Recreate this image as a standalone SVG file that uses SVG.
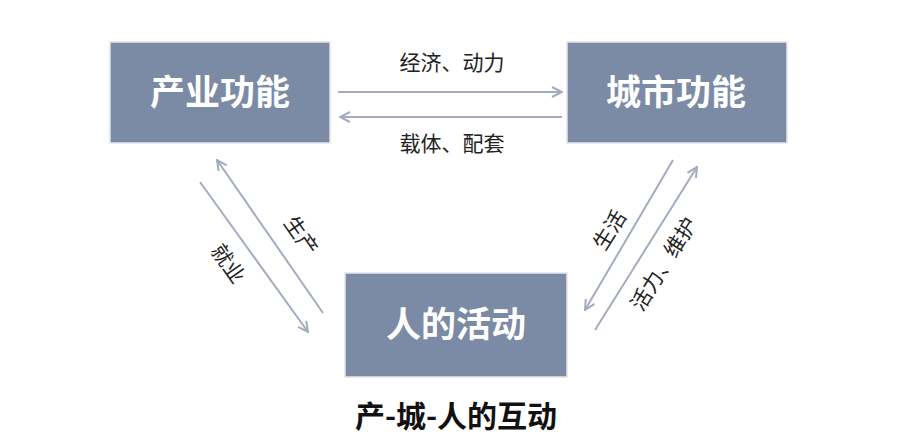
<svg xmlns="http://www.w3.org/2000/svg" width="900" height="439" viewBox="0 0 900 439">
<style>
.box{fill:#7b8aa5;stroke:#e3e6ec;stroke-width:1.5}
.nt{font-family:"Noto Sans CJK SC","Liberation Sans",sans-serif;font-weight:bold;font-size:35px;fill:#ffffff;text-anchor:middle}
.lb{font-family:"Noto Sans CJK SC","Liberation Sans",sans-serif;font-size:21px;fill:#222;text-anchor:middle}
.ttl{font-family:"Noto Sans CJK SC","Liberation Sans",sans-serif;font-weight:bold;font-size:30px;fill:#111;text-anchor:middle}
.ln{stroke:#a3acbf;stroke-width:2;fill:none;marker-end:url(#ah)}
</style>
<defs>
<marker id="ah" viewBox="0 0 12 12" refX="11" refY="6" markerWidth="12" markerHeight="12" markerUnits="userSpaceOnUse" orient="auto">
<path d="M1,1 L11,6 L1,11" fill="none" stroke="#a3acbf" stroke-width="2"/>
</marker>
</defs>
<rect width="900" height="439" fill="#ffffff"/>
<g id="node-industry">
<rect class="box" x="110" y="42" width="220" height="101"/>
<text class="nt" x="220" y="105">产业功能</text>
</g>
<g id="node-city">
<rect class="box" x="567" y="42" width="220" height="101"/>
<text class="nt" x="676" y="105">城市功能</text>
</g>
<g id="node-people">
<rect class="box" x="345" y="273" width="222" height="104"/>
<text class="nt" x="456" y="337">人的活动</text>
</g>
<g id="connectors">
<line class="ln" x1="338" y1="92" x2="562" y2="92"/>
<line class="ln" x1="562" y1="117" x2="340" y2="117"/>
<line class="ln" x1="200" y1="182" x2="308" y2="332"/>
<line class="ln" x1="323" y1="313" x2="217" y2="160"/>
<line class="ln" x1="673" y1="160" x2="585" y2="310"/>
<line class="ln" x1="595" y1="330" x2="697" y2="167"/>
<text class="lb" x="452" y="70">经济、动力</text>
<text class="lb" x="452" y="151">载体、配套</text>
<text class="lb" transform="translate(295,240) rotate(55)">生产</text>
<text class="lb" transform="translate(222,268) rotate(55)">就业</text>
<text class="lb" transform="translate(616,234) rotate(-58)">生活</text>
<text class="lb" transform="translate(670,268) rotate(-58)">活力、维护</text>
</g>
<text class="ttl" x="456" y="427">产-城-人的互动</text>
</svg>
